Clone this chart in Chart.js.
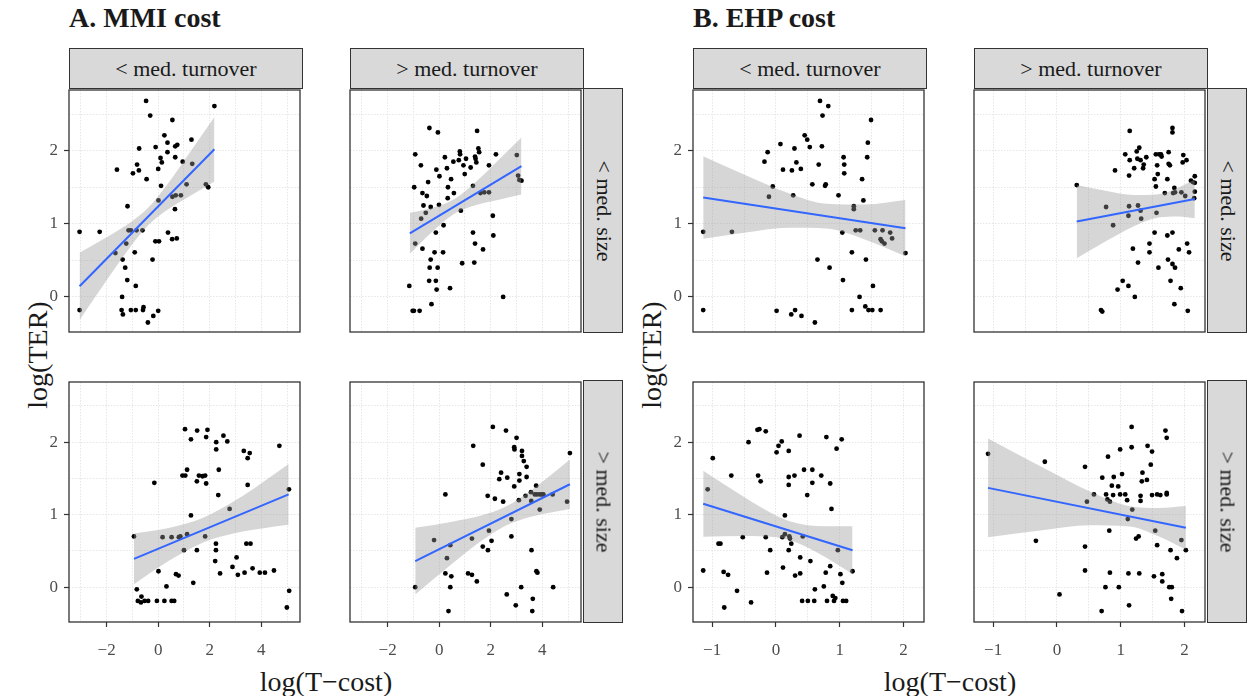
<!DOCTYPE html>
<html>
<head>
<meta charset="utf-8">
<script src="https://cdn.jsdelivr.net/npm/chart.js@4.4.0/dist/chart.umd.min.js"></script>
<style>
  body { margin: 0; background: #fff; }
  #wrap { position: relative; width: 1248px; height: 696px; font-family: "Liberation Serif", serif; color: #1a1a1a; overflow: hidden; }
  canvas { position: absolute; }
  .strip { position: absolute; box-sizing: border-box; background: #d9d9d9; border: 1.3px solid #333;
           display: flex; align-items: center; justify-content: center; font-size: 22px; color: #1a1a1a; }
  .vtxt { transform: rotate(90deg); white-space: nowrap; }
  .title { position: absolute; font-weight: bold; font-size: 28px; white-space: nowrap; }
  .axt { position: absolute; font-size: 28px; white-space: nowrap; transform: translate(-50%, -50%); }
  .axt.rot { transform: translate(-50%, -50%) rotate(-90deg); }
</style>
</head>
<body>
<div id="wrap">
  <div class="title" style="left:69px;top:2px;">A. MMI cost</div>
  <div class="title" style="left:693px;top:2px;">B. EHP cost</div>
  <div class="axt rot" style="left:38px;top:355px;">log(TER)</div>
  <div class="axt rot" style="left:652px;top:355px;">log(TER)</div>
  <div class="axt" style="left:326px;top:682px;">log(T&minus;cost)</div>
  <div class="axt" style="left:950px;top:682px;">log(T&minus;cost)</div>
</div>
<script>
// ---- data: points [log(T-cost), log(TER)] per panel (row/col), fit line ends, ribbon ----
// A. MMI cost, < med. size, < med. turnover
const ptsA11 = [[-0.47,2.68],[-0.31,2.48],[2.18,2.61],[0.55,2.42],[1.29,2.15],[0.24,2.21],[0.36,2.11],[-0.10,2.05],[-0.74,2.03],[0.66,2.06],[0.74,2.08],[0.36,1.98],[0.09,1.90],[0.66,1.91],[0.14,1.84],[0.95,1.85],[1.32,1.82],[-0.82,1.81],[0.00,1.75],[-0.75,1.73],[-1.60,1.74],[-0.98,1.69],[-0.45,1.61],[0.11,1.52],[1.10,1.54],[1.85,1.54],[1.94,1.50],[0.88,1.39],[0.68,1.39],[0.55,1.37],[0.01,1.32],[0.65,1.20],[-1.19,1.24],[-3.05,0.89],[-2.27,0.89],[-1.15,0.91],[-1.06,0.91],[-0.84,0.91],[-0.61,0.91],[0.38,0.88],[0.72,0.80],[0.54,0.79],[-0.11,0.76],[0.03,0.76],[-1.24,0.73],[-1.66,0.60],[-0.91,0.61],[-0.22,0.51],[-1.38,0.51],[-1.28,0.40],[-1.20,0.23],[-0.87,0.15],[-1.40,0.00],[-3.05,-0.18],[-1.42,-0.18],[-1.06,-0.18],[-0.87,-0.18],[-0.57,-0.14],[-0.59,-0.18],[-1.37,-0.24],[-0.19,-0.26],[0.00,-0.19],[-0.40,-0.35]];
const fitA11 = [[-3.05,0.145],[2.18,2.02]];
const bandXA11 = [-3.05,-2.0,-1.0,-0.4,0.3,1.2,2.18];
const bandHiA11 = [0.605,0.815,1.037,1.215,1.514,1.962,2.46];
const bandLoA11 = [-0.315,0.227,0.723,0.975,1.178,1.374,1.58];

// A. MMI cost, < med. size, > med. turnover
const ptsA12 = [[-0.38,2.31],[-0.05,2.25],[1.47,2.27],[-0.93,1.95],[0.80,1.99],[1.52,2.03],[1.55,1.98],[2.20,1.95],[3.01,1.94],[-0.71,1.80],[0.22,1.91],[0.81,1.95],[1.39,1.92],[1.41,1.89],[1.04,1.89],[0.76,1.87],[0.55,1.85],[1.44,1.84],[0.94,1.80],[1.22,1.77],[1.93,1.80],[0.30,1.76],[-0.11,1.74],[0.01,1.65],[0.46,1.61],[0.99,1.68],[-0.43,1.57],[-0.97,1.50],[0.34,1.50],[1.31,1.52],[3.06,1.66],[3.11,1.60],[3.19,1.59],[-0.65,1.42],[-0.48,1.38],[0.57,1.42],[0.33,1.35],[1.60,1.42],[1.75,1.43],[1.93,1.43],[-0.61,1.25],[-0.33,1.23],[-0.01,1.26],[0.84,1.18],[-0.52,1.15],[-0.70,1.07],[0.17,0.98],[-0.13,0.88],[1.31,0.88],[2.08,1.11],[2.10,0.84],[-0.93,0.73],[1.39,0.73],[-0.65,0.66],[1.70,0.65],[-0.18,0.61],[0.15,0.61],[-0.33,0.51],[0.89,0.46],[1.36,0.47],[-0.37,0.40],[-0.06,0.40],[-0.39,0.22],[-0.13,0.22],[-1.16,0.15],[-0.10,0.10],[0.42,0.12],[-0.30,-0.10],[2.48,0.00],[-1.03,-0.19],[-0.98,-0.19],[-0.76,-0.19]];
const fitA12 = [[-1.14,0.87],[3.19,1.79]];
const bandXA12 = [-1.14,-0.3,0.6,1.5,2.4,3.19];
const bandHiA12 = [1.15,1.216,1.34,1.598,1.907,2.18];
const bandLoA12 = [0.59,0.882,1.14,1.264,1.337,1.40];

// A. MMI cost, > med. size, < med. turnover
const ptsA21 = [[1.04,2.18],[1.51,2.16],[1.91,2.17],[1.86,2.07],[1.27,2.04],[2.53,2.09],[2.68,2.01],[2.25,2.00],[2.25,1.90],[4.70,1.95],[3.32,1.88],[3.55,1.85],[3.47,1.78],[1.12,1.62],[2.35,1.62],[0.94,1.54],[1.05,1.54],[1.58,1.54],[1.72,1.53],[1.82,1.54],[1.50,1.46],[1.86,1.43],[-0.15,1.44],[3.47,1.41],[2.33,1.27],[5.07,1.35],[2.77,1.08],[1.27,0.99],[-0.94,0.70],[0.17,0.69],[0.52,0.69],[0.80,0.69],[0.86,0.70],[1.12,0.73],[1.82,0.70],[1.00,0.51],[1.50,0.51],[2.24,0.60],[3.58,0.60],[3.42,0.60],[2.24,0.51],[3.04,0.41],[2.21,0.36],[2.88,0.28],[2.40,0.19],[3.09,0.17],[3.35,0.20],[3.66,0.26],[3.94,0.20],[4.14,0.20],[4.49,0.23],[0.01,0.22],[0.69,0.18],[0.79,0.16],[0.32,0.01],[1.36,0.06],[-0.83,-0.03],[-0.65,-0.13],[-0.79,-0.19],[-0.67,-0.21],[-0.53,-0.19],[-0.39,-0.19],[-0.05,-0.19],[0.24,-0.19],[0.52,-0.19],[0.62,-0.19],[5.08,-0.05],[4.99,-0.28]];
const fitA21 = [[-0.94,0.39],[5.06,1.28]];
const bandXA21 = [-0.94,0.4,1.72,3.0,4.1,5.06];
const bandHiA21 = [0.74,0.816,0.954,1.198,1.458,1.70];
const bandLoA21 = [0.04,0.36,0.614,0.748,0.814,0.86];

// A. MMI cost, > med. size, > med. turnover
const ptsA22 = [[2.08,2.21],[2.59,2.16],[3.00,2.06],[1.32,1.95],[2.91,1.93],[2.92,1.90],[3.21,1.88],[3.21,1.81],[3.28,1.74],[3.39,1.66],[5.07,1.85],[1.69,1.69],[2.40,1.58],[3.11,1.56],[2.33,1.49],[2.64,1.51],[3.11,1.47],[3.39,1.52],[2.91,1.39],[3.76,1.40],[0.24,1.28],[1.88,1.26],[2.16,1.22],[2.48,1.18],[3.09,1.20],[3.35,1.26],[3.56,1.31],[3.57,1.19],[3.71,1.28],[3.79,1.28],[3.90,1.28],[3.98,1.28],[4.04,1.28],[4.40,1.28],[4.96,1.18],[3.90,1.07],[2.80,0.94],[1.93,0.78],[-0.20,0.65],[0.43,0.58],[1.27,0.67],[2.03,0.64],[2.80,0.70],[1.69,0.56],[1.89,0.51],[0.30,0.40],[3.58,0.51],[0.24,0.19],[0.47,0.15],[1.12,0.19],[1.27,0.17],[1.46,0.08],[3.77,0.22],[3.81,0.20],[-0.93,0.00],[0.43,0.00],[3.18,0.00],[4.42,0.00],[2.62,-0.10],[3.63,-0.16],[2.97,-0.25],[0.36,-0.33],[3.61,-0.33]];
const fitA22 = [[-0.93,0.36],[5.07,1.42]];
const bandXA22 = [-0.93,0.5,1.6,2.57,3.6,5.07];
const bandHiA22 = [0.82,0.904,0.985,1.108,1.344,1.76];
const bandLoA22 = [-0.10,0.322,0.629,0.848,0.976,1.08];

// B. EHP cost, < med. size, < med. turnover
const ptsB11 = [[0.69,2.68],[0.82,2.61],[0.73,2.48],[1.49,2.42],[0.45,2.21],[0.49,2.15],[0.07,2.09],[0.29,2.03],[0.53,2.05],[0.72,2.06],[1.44,2.11],[-0.13,1.98],[1.06,1.91],[1.43,1.91],[-0.18,1.85],[0.32,1.84],[0.67,1.81],[1.07,1.81],[0.11,1.74],[0.25,1.73],[0.39,1.75],[1.07,1.69],[1.35,1.61],[0.57,1.54],[0.78,1.54],[0.77,1.52],[-0.05,1.51],[-0.11,1.37],[0.27,1.39],[0.98,1.39],[1.37,1.32],[1.22,1.24],[1.22,1.20],[-1.14,0.89],[-0.69,0.89],[1.04,0.88],[1.25,0.91],[1.32,0.91],[1.55,0.91],[1.67,0.91],[1.79,0.88],[1.82,0.80],[1.64,0.79],[1.66,0.76],[1.70,0.73],[2.03,0.60],[1.19,0.61],[0.65,0.51],[1.41,0.51],[0.84,0.40],[1.05,0.23],[1.52,0.15],[1.31,0.00],[-1.14,-0.18],[0.01,-0.19],[0.24,-0.24],[0.30,-0.18],[0.40,-0.26],[0.61,-0.35],[1.19,-0.18],[1.40,-0.13],[1.45,-0.18],[1.51,-0.18],[1.64,-0.18]];
const fitB11 = [[-1.14,1.36],[2.03,0.94]];
const bandXB11 = [-1.14,-0.5,0.2,0.79,1.4,2.03];
const bandHiB11 = [1.925,1.673,1.419,1.274,1.264,1.325];
const bandLoB11 = [0.795,0.877,0.945,0.934,0.782,0.555];

// B. EHP cost, < med. size, > med. turnover
const ptsB12 = [[1.14,2.27],[1.81,2.31],[1.81,2.25],[1.07,1.95],[1.29,2.04],[1.25,1.99],[1.75,1.98],[1.14,1.87],[1.26,1.89],[1.31,1.87],[1.40,1.91],[1.55,1.95],[1.60,1.95],[1.64,1.92],[1.63,1.95],[1.98,1.94],[2.03,1.87],[1.97,1.84],[1.36,1.81],[1.35,1.76],[1.21,1.76],[1.57,1.80],[1.75,1.82],[1.77,1.80],[0.91,1.73],[1.13,1.66],[1.58,1.68],[1.53,1.61],[1.73,1.61],[2.16,1.65],[2.10,1.59],[2.13,1.57],[2.16,1.56],[1.55,1.51],[1.84,1.49],[1.69,1.42],[1.82,1.42],[1.85,1.43],[1.95,1.43],[2.01,1.38],[2.16,1.44],[2.15,1.35],[0.31,1.53],[0.77,1.23],[1.13,1.24],[1.27,1.25],[1.31,1.18],[1.12,1.11],[1.32,1.07],[1.56,1.15],[0.88,0.98],[1.53,0.88],[1.73,0.84],[1.81,0.88],[1.45,0.73],[2.04,0.73],[1.19,0.66],[1.45,0.61],[1.91,0.65],[2.07,0.61],[1.27,0.47],[1.74,0.51],[1.81,0.45],[1.85,0.40],[1.59,0.40],[1.03,0.22],[1.78,0.22],[0.95,0.10],[1.12,0.15],[1.94,0.12],[1.22,0.00],[1.84,-0.10],[0.69,-0.18],[0.71,-0.20],[2.05,-0.19]];
const fitB12 = [[0.31,1.03],[2.16,1.34]];
const bandXB12 = [0.31,0.8,1.2,1.59,1.9,2.16];
const bandHiB12 = [1.53,1.445,1.394,1.405,1.493,1.605];
const bandLoB12 = [0.53,0.779,0.964,1.085,1.099,1.075];

// B. EHP cost, > med. size, < med. turnover
const ptsB21 = [[-0.29,2.17],[-0.26,2.18],[-0.16,2.15],[0.37,2.09],[0.79,2.07],[1.03,2.04],[0.09,2.01],[-0.43,2.00],[0.04,1.95],[0.95,1.91],[0.01,1.86],[0.20,1.88],[-0.99,1.78],[0.44,1.62],[0.57,1.62],[-0.70,1.54],[-0.28,1.54],[0.20,1.52],[0.29,1.54],[0.71,1.54],[-0.24,1.46],[0.57,1.44],[0.20,1.41],[0.85,1.43],[-1.07,1.35],[0.49,1.27],[0.87,1.08],[0.14,0.99],[-0.52,0.69],[-0.16,0.69],[0.10,0.69],[0.14,0.73],[0.21,0.70],[0.22,0.67],[0.24,0.60],[0.42,0.70],[-0.90,0.60],[-0.87,0.60],[-0.09,0.51],[0.20,0.51],[0.97,0.51],[0.38,0.41],[0.54,0.36],[0.85,0.29],[0.11,0.27],[0.78,0.20],[1.01,0.18],[0.38,0.19],[0.30,0.16],[-0.82,0.21],[-0.75,0.17],[-1.14,0.23],[-0.14,0.20],[1.04,0.06],[0.75,0.01],[0.61,-0.03],[-0.61,-0.05],[-0.39,-0.21],[-0.81,-0.28],[0.41,-0.19],[0.50,-0.19],[0.60,-0.19],[0.80,-0.19],[0.89,-0.12],[0.91,-0.19],[0.93,-0.15],[1.05,-0.19],[1.10,-0.19],[1.20,0.22]];
const fitB21 = [[-1.14,1.15],[1.20,0.51]];
const bandXB21 = [-1.14,-0.5,0.0,0.24,0.75,1.2];
const bandHiB21 = [1.605,1.243,0.989,0.903,0.84,0.84];
const bandLoB21 = [0.695,0.707,0.689,0.643,0.426,0.18];

// B. EHP cost, > med. size, > med. turnover
const ptsB22 = [[1.17,2.21],[1.70,2.16],[1.72,2.06],[-1.08,1.84],[-0.19,1.73],[0.80,1.80],[0.99,1.90],[1.17,1.93],[1.42,1.95],[1.49,1.87],[1.47,1.69],[0.44,1.66],[0.71,1.51],[0.89,1.52],[1.02,1.56],[1.34,1.58],[1.33,1.46],[1.41,1.48],[0.86,1.40],[0.96,1.39],[0.77,1.28],[0.88,1.27],[0.99,1.28],[1.07,1.28],[1.10,1.20],[1.31,1.26],[1.31,1.19],[1.49,1.27],[1.57,1.28],[1.62,1.27],[1.72,1.28],[1.72,1.30],[0.79,1.21],[0.83,1.18],[0.58,1.28],[0.47,1.18],[1.18,1.07],[1.11,0.94],[1.54,0.78],[0.82,0.78],[1.24,0.67],[1.28,0.70],[-0.33,0.64],[0.44,0.56],[1.57,0.58],[1.78,0.51],[1.95,0.65],[1.88,0.40],[2.02,0.51],[0.44,0.23],[0.83,0.20],[1.12,0.19],[1.29,0.19],[1.52,0.15],[1.65,0.18],[1.65,0.08],[0.76,0.00],[0.97,0.00],[1.76,0.00],[1.80,0.00],[1.79,-0.16],[0.04,-0.10],[1.13,-0.25],[0.70,-0.33],[1.96,-0.33]];
const fitB22 = [[-1.08,1.37],[2.02,0.82]];
const bandXB22 = [-1.08,-0.2,0.5,1.136,1.6,2.02];
const bandHiB22 = [2.05,1.639,1.327,1.118,1.093,1.12];
const bandLoB22 = [0.69,0.789,0.853,0.838,0.699,0.52];

// axis ranges
const xRangeA = [-3.46, 5.5];
const xRangeB = [-1.30, 2.32];
const yRange = [-0.48, 2.83];

// strip labels
const colLabels = ['< med. turnover', '> med. turnover'];
const rowLabels = ['< med. size', '> med. size'];

// ---- layout ----
const wrap = document.getElementById('wrap');
const L = 50, B = 48, PADT = 2, PADR = 2;
const colLeft = { A: [69, 350], B: [693, 974] };
const rowTop = [88, 380], rowH = [244, 242], panelW = 233;

const isInt = v => Math.abs(v - Math.round(v)) < 1e-6;
const fmt = v => { const r = Math.round(v); return r < 0 ? '\u2212' + Math.abs(r) : String(r); };

const panelBorder = {
  id: 'panelBorder',
  afterDraw(chart) {
    const { ctx, chartArea: { left, top, width, height } } = chart;
    ctx.save();
    ctx.strokeStyle = '#333';
    ctx.lineWidth = 1.3;
    ctx.strokeRect(left, top, width, height);
    ctx.restore();
  }
};

function makePanel(group, r, c, pts, fit, bandX, bandLo, bandHi) {
  const left = colLeft[group][c], top = rowTop[r], h = rowH[r];
  const cv = document.createElement('canvas');
  const w = L + panelW + PADR, hh = PADT + h + B;
  cv.width = w; cv.height = hh;
  cv.style.left = (left - L) + 'px';
  cv.style.top = (top - PADT) + 'px';
  cv.style.width = w + 'px';
  cv.style.height = hh + 'px';
  wrap.appendChild(cv);

  const showX = r === 1, showY = c === 0;
  const xr = group === 'A' ? xRangeA : xRangeB;
  const xStep = group === 'A' ? 1 : 0.5;
  const xMajor = group === 'A' ? (v => isInt(v / 2)) : isInt;
  const tickFont = { family: 'Liberation Serif', size: 17 };

  new Chart(cv, {
    type: 'scatter',
    data: {
      datasets: [
        { type: 'scatter', data: pts.map(p => ({ x: p[0], y: p[1] })),
          pointRadius: 2.4, pointBackgroundColor: '#000', pointBorderWidth: 0, order: 3 },
        { type: 'line', data: bandX.map((x, i) => ({ x: x, y: bandHi[i] })),
          borderWidth: 0, pointRadius: 0, fill: '+1', backgroundColor: 'rgba(153,153,153,0.4)',
          cubicInterpolationMode: 'monotone', order: 2 },
        { type: 'line', data: bandX.map((x, i) => ({ x: x, y: bandLo[i] })),
          borderWidth: 0, pointRadius: 0, fill: false,
          cubicInterpolationMode: 'monotone', order: 2 },
        { type: 'line', data: fit.map(p => ({ x: p[0], y: p[1] })),
          borderColor: '#3366FF', borderWidth: 2, pointRadius: 0, fill: false, order: 1 }
      ]
    },
    options: {
      responsive: false,
      animation: false,
      layout: { padding: { top: PADT, right: PADR, left: 0, bottom: 0 } },
      plugins: { legend: { display: false }, tooltip: { enabled: false } },
      scales: {
        x: {
          type: 'linear', min: xr[0], max: xr[1],
          afterFit(s) { s.height = B; s.paddingLeft = 0; s.paddingRight = 0; },
          border: { display: false, dash: [1.5, 1.5] },
          grid: {
            color: '#e6e6e6', lineWidth: 1,
            drawTicks: showX, tickLength: 5, tickWidth: 1.2,
            tickColor: ctx => (ctx.tick && xMajor(ctx.tick.value)) ? '#333' : 'rgba(0,0,0,0)'
          },
          ticks: {
            display: showX, stepSize: xStep, includeBounds: false, autoSkip: false,
            maxRotation: 0, padding: 13, color: '#4d4d4d', font: tickFont,
            callback: v => xMajor(v) ? fmt(v) : ''
          }
        },
        y: {
          type: 'linear', min: yRange[0], max: yRange[1],
          afterFit(s) { s.width = L; s.paddingTop = 0; s.paddingBottom = 0; },
          border: { display: false, dash: [1.5, 1.5] },
          grid: {
            color: '#e6e6e6', lineWidth: 1,
            drawTicks: showY, tickLength: 5, tickWidth: 1.2,
            tickColor: ctx => (ctx.tick && isInt(ctx.tick.value)) ? '#333' : 'rgba(0,0,0,0)'
          },
          ticks: {
            display: showY, stepSize: 0.5, includeBounds: false, autoSkip: false,
            padding: 6, color: '#4d4d4d', font: tickFont,
            callback: v => isInt(v) ? fmt(v) : ''
          }
        }
      }
    },
    plugins: [panelBorder]
  });
}

makePanel('A', 0, 0, ptsA11, fitA11, bandXA11, bandLoA11, bandHiA11);
makePanel('A', 0, 1, ptsA12, fitA12, bandXA12, bandLoA12, bandHiA12);
makePanel('A', 1, 0, ptsA21, fitA21, bandXA21, bandLoA21, bandHiA21);
makePanel('A', 1, 1, ptsA22, fitA22, bandXA22, bandLoA22, bandHiA22);
makePanel('B', 0, 0, ptsB11, fitB11, bandXB11, bandLoB11, bandHiB11);
makePanel('B', 0, 1, ptsB12, fitB12, bandXB12, bandLoB12, bandHiB12);
makePanel('B', 1, 0, ptsB21, fitB21, bandXB21, bandLoB21, bandHiB21);
makePanel('B', 1, 1, ptsB22, fitB22, bandXB22, bandLoB22, bandHiB22);

// facet strips
function addStrip(x, y, w, h, text, vertical) {
  const d = document.createElement('div');
  d.className = 'strip';
  d.style.left = x + 'px'; d.style.top = y + 'px';
  d.style.width = w + 'px'; d.style.height = h + 'px';
  const s = document.createElement('span');
  s.textContent = text;
  if (vertical) s.className = 'vtxt';
  d.appendChild(s);
  wrap.appendChild(d);
}
['A', 'B'].forEach(g => {
  colLeft[g].forEach((x, c) => addStrip(x, 48, panelW + 1, 41, colLabels[c], false));
  const rx = colLeft[g][1] + panelW;
  rowTop.forEach((y, r) => addStrip(rx, y, 40, rowH[r] + 1, rowLabels[r], true));
});
</script>
</body>
</html>
